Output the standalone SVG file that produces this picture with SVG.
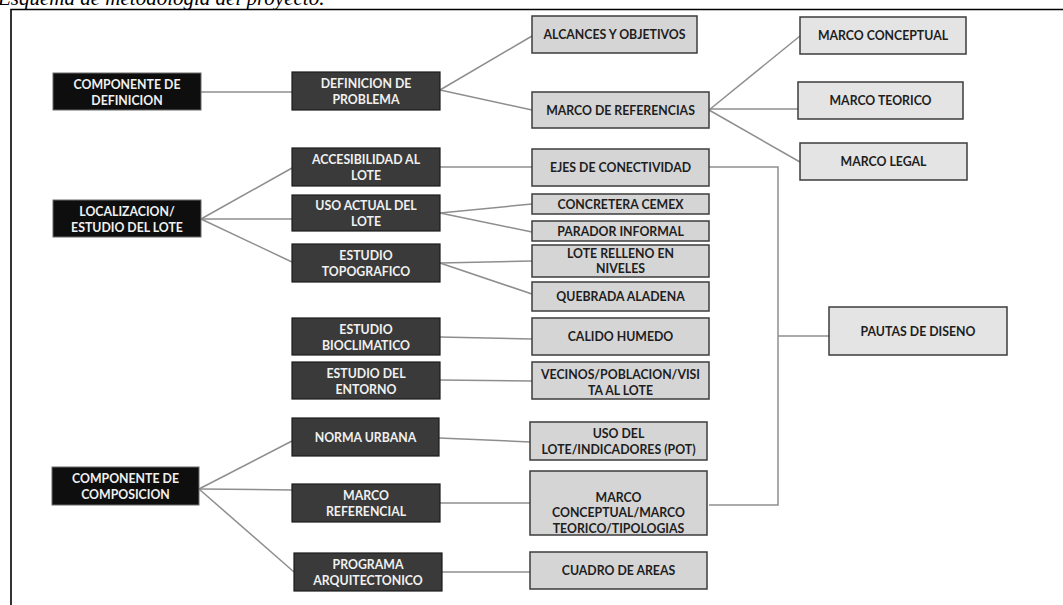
<svg xmlns="http://www.w3.org/2000/svg" width="1063" height="605" viewBox="0 0 1063 605">
<style>
  .title{font-family:"Liberation Serif",serif;font-style:italic;font-size:21px;fill:#000}
  .blk rect{fill:#0e0e0e;stroke:#6a6a6a;stroke-width:1}
  .drk rect{fill:#3a3a3a;stroke:#1c1c1c;stroke-width:1.2}
  .lgt rect{fill:#d5d5d5;stroke:#3c3c3c;stroke-width:1.5}
  .lgt2 rect{fill:#e4e4e4;stroke:#3c3c3c;stroke-width:1.5}
  text.t{font-family:Lato,"Open Sans",sans-serif;font-weight:bold;font-size:12.3px;text-anchor:middle;dominant-baseline:central}
  .blk text,.drk text{fill:#f0f0f0}
  .lgt text,.lgt2 text{fill:#1e1e1e}
  #connectors line,#connectors polyline{stroke:#8e8e8e;stroke-width:1.5;fill:none}
  .frame{stroke:#000;stroke-width:1.6;fill:none}
</style>
<rect width="1063" height="605" fill="#fff"/>
<text class="title" x="-2" y="5">Esquema de metodología del proyecto.</text>
<polyline class="frame" points="11,605 11,9.5 1063,9.5"/>

<g id="connectors">
  <line x1="201" y1="92" x2="292" y2="92"/>
  <line x1="440" y1="90" x2="532" y2="36"/>
  <line x1="440" y1="90" x2="532" y2="110"/>
  <line x1="709" y1="110" x2="800" y2="36"/>
  <line x1="709" y1="109" x2="798" y2="109"/>
  <line x1="709" y1="110" x2="800" y2="162"/>
  <line x1="440" y1="167" x2="532" y2="167"/>
  <polyline points="709,167 778,167 778,505 709,505"/>
  <line x1="778" y1="336" x2="829" y2="336"/>
  <line x1="201" y1="219" x2="292" y2="168"/>
  <line x1="201" y1="219" x2="292" y2="219"/>
  <line x1="201" y1="219" x2="292" y2="262"/>
  <line x1="440" y1="213" x2="532" y2="204"/>
  <line x1="440" y1="213" x2="532" y2="232"/>
  <line x1="440" y1="263" x2="532" y2="261"/>
  <line x1="440" y1="263" x2="532" y2="294"/>
  <line x1="440" y1="337" x2="532" y2="339"/>
  <line x1="440" y1="380" x2="532" y2="381"/>
  <line x1="439" y1="438" x2="530" y2="442"/>
  <line x1="199" y1="489" x2="292" y2="441"/>
  <line x1="199" y1="489" x2="292" y2="490"/>
  <line x1="199" y1="489" x2="294" y2="572"/>
  <line x1="440" y1="503" x2="530" y2="503"/>
  <line x1="442" y1="572" x2="530" y2="572"/>
</g>

<!-- black component boxes -->
<g id="comp-definicion" class="blk"><rect x="53" y="73" width="148" height="37"/>
  <text class="t" x="127" y="84">COMPONENTE DE</text><text class="t" x="127" y="100">DEFINICION</text></g>
<g id="localizacion" class="blk"><rect x="53" y="200" width="148" height="37"/>
  <text class="t" x="127" y="211">LOCALIZACION/</text><text class="t" x="127" y="227">ESTUDIO DEL LOTE</text></g>
<g id="comp-composicion" class="blk"><rect x="52" y="467" width="147" height="38"/>
  <text class="t" x="125.5" y="478">COMPONENTE DE</text><text class="t" x="125.5" y="494">COMPOSICION</text></g>

<!-- dark boxes -->
<g id="definicion-problema" class="drk"><rect x="292" y="72" width="148" height="38"/>
  <text class="t" x="366" y="83">DEFINICION DE</text><text class="t" x="366" y="99">PROBLEMA</text></g>
<g id="accesibilidad" class="drk"><rect x="292" y="148" width="148" height="38"/>
  <text class="t" x="366" y="159">ACCESIBILIDAD AL</text><text class="t" x="366" y="175">LOTE</text></g>
<g id="uso-actual" class="drk"><rect x="292" y="195" width="148" height="36"/>
  <text class="t" x="366" y="205">USO ACTUAL DEL</text><text class="t" x="366" y="221">LOTE</text></g>
<g id="estudio-topografico" class="drk"><rect x="292" y="244" width="148" height="38"/>
  <text class="t" x="366" y="255">ESTUDIO</text><text class="t" x="366" y="271">TOPOGRAFICO</text></g>
<g id="estudio-bioclimatico" class="drk"><rect x="292" y="318" width="148" height="37"/>
  <text class="t" x="366" y="329">ESTUDIO</text><text class="t" x="366" y="345">BIOCLIMATICO</text></g>
<g id="estudio-entorno" class="drk"><rect x="292" y="362" width="148" height="37"/>
  <text class="t" x="366" y="373">ESTUDIO DEL</text><text class="t" x="366" y="389">ENTORNO</text></g>
<g id="norma-urbana" class="drk"><rect x="292" y="418" width="147" height="38"/>
  <text class="t" x="365.5" y="437">NORMA URBANA</text></g>
<g id="marco-referencial" class="drk"><rect x="292" y="484" width="148" height="38"/>
  <text class="t" x="366" y="495">MARCO</text><text class="t" x="366" y="511">REFERENCIAL</text></g>
<g id="programa" class="drk"><rect x="294" y="553" width="148" height="38"/>
  <text class="t" x="368" y="564">PROGRAMA</text><text class="t" x="368" y="580">ARQUITECTONICO</text></g>

<!-- light boxes -->
<g id="alcances" class="lgt"><rect x="532" y="16" width="165" height="37"/>
  <text class="t" x="614.5" y="34.5">ALCANCES Y OBJETIVOS</text></g>
<g id="marco-referencias" class="lgt"><rect x="532" y="92" width="177" height="36"/>
  <text class="t" x="620.5" y="110">MARCO DE REFERENCIAS</text></g>
<g id="ejes" class="lgt"><rect x="532" y="149" width="177" height="37"/>
  <text class="t" x="620.5" y="167.5">EJES DE CONECTIVIDAD</text></g>
<g id="concretera" class="lgt"><rect x="532" y="194" width="177" height="20"/>
  <text class="t" x="620.5" y="204">CONCRETERA CEMEX</text></g>
<g id="parador" class="lgt"><rect x="532" y="221" width="177" height="20"/>
  <text class="t" x="620.5" y="231">PARADOR INFORMAL</text></g>
<g id="lote-relleno" class="lgt"><rect x="532" y="245" width="177" height="32"/>
  <text class="t" x="620.5" y="253">LOTE RELLENO EN</text><text class="t" x="620.5" y="268.5">NIVELES</text></g>
<g id="quebrada" class="lgt"><rect x="532" y="282" width="177" height="29"/>
  <text class="t" x="620.5" y="296.5">QUEBRADA ALADENA</text></g>
<g id="calido" class="lgt"><rect x="532" y="318" width="177" height="37"/>
  <text class="t" x="620.5" y="336.5">CALIDO HUMEDO</text></g>
<g id="vecinos" class="lgt"><rect x="532" y="362" width="177" height="37"/>
  <text class="t" x="620.5" y="374">VECINOS/POBLACION/VISI</text><text class="t" x="620.5" y="390">TA AL LOTE</text></g>
<g id="uso-del-lote" class="lgt"><rect x="530" y="422" width="177" height="38"/>
  <text class="t" x="618.5" y="433">USO DEL</text><text class="t" x="618.5" y="449">LOTE/INDICADORES (POT)</text></g>
<g id="marco-conc-teo" class="lgt"><rect x="530" y="471" width="177" height="64"/>
  <text class="t" x="618.5" y="497">MARCO</text><text class="t" x="618.5" y="512.5">CONCEPTUAL/MARCO</text><text class="t" x="618.5" y="528">TEORICO/TIPOLOGIAS</text></g>
<g id="cuadro-areas" class="lgt"><rect x="530" y="552" width="177" height="37"/>
  <text class="t" x="618.5" y="570.5">CUADRO DE AREAS</text></g>

<!-- lighter boxes -->
<g id="marco-conceptual" class="lgt2"><rect x="800" y="17" width="166" height="37"/>
  <text class="t" x="883" y="35.5">MARCO CONCEPTUAL</text></g>
<g id="marco-teorico" class="lgt2"><rect x="798" y="82" width="165" height="37"/>
  <text class="t" x="880.5" y="100.5">MARCO TEORICO</text></g>
<g id="marco-legal" class="lgt2"><rect x="800" y="143" width="167" height="37"/>
  <text class="t" x="883.5" y="161.5">MARCO LEGAL</text></g>
<g id="pautas" class="lgt2"><rect x="829" y="307" width="178" height="48"/>
  <text class="t" x="918" y="331">PAUTAS DE DISENO</text></g>
</svg>
